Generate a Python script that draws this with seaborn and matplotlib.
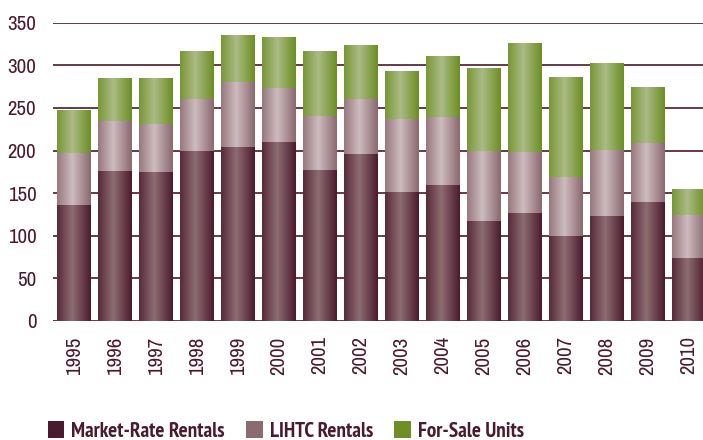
import numpy as np
import pandas as pd
import matplotlib
matplotlib.use("Agg")
import matplotlib.pyplot as plt
import seaborn as sns
from matplotlib.patches import Patch
from matplotlib.colors import to_rgb
from matplotlib import font_manager as fm

years = ["1995", "1996", "1997", "1998", "1999", "2000", "2001", "2002",
         "2003", "2004", "2005", "2006", "2007", "2008", "2009", "2010"]
market_rate = [136, 176, 175, 200, 204, 210, 177, 196, 151, 159, 117, 127, 100, 123, 140, 74]
lihtc = [61, 59, 56, 60, 76, 63, 63, 64, 86, 80, 82, 71, 69, 78, 69, 50]
for_sale = [50, 50, 54, 57, 55, 60, 77, 64, 56, 72, 98, 128, 117, 102, 66, 31]
series_names = ["Market-Rate Rentals", "LIHTC Rentals", "For-Sale Units"]

TEXT = "#4a1a2e"
legend_cols = ["#4a1a2e", "#8c6b70", "#6e8e26"]
edge_cols = ["#4b1a2d", "#8a686e", "#6c8e22"]
center_cols = ["#8d6d72", "#cdbcbf", "#abbb85"]

sns.set_theme(style="white")

names = {f.name for f in fm.fontManager.ttflist}
tick_fam = "Archivo Narrow" if "Archivo Narrow" in names else "DejaVu Sans"
leg_fam = "PT Sans Narrow" if "PT Sans Narrow" in names else tick_fam
plt.rcParams["font.family"] = [tick_fam, "DejaVu Sans"]

df = pd.DataFrame({"year": years, "market": market_rate, "lihtc": lihtc, "sale": for_sale})
df["c1"] = df["market"]
df["c2"] = df["market"] + df["lihtc"]
df["c3"] = df["c2"] + df["sale"]

fig = plt.figure(figsize=(7.03, 4.40), dpi=100)
ax = fig.add_axes([53 / 703, 1 - 321 / 440, 650 / 703, (321 - 22.7) / 440])

W = 0.82
layers = [("c3", 2, 2), ("c2", 1, 4), ("c1", 0, 6)]
for col, ci, z in layers:
    n_before = len(ax.patches)
    sns.barplot(data=df, x="year", y=col, color=legend_cols[ci], width=W,
                ax=ax, saturation=1, linewidth=0, zorder=z)
    new = ax.patches[n_before:]
    e = np.array(to_rgb(edge_cols[ci]))
    c = np.array(to_rgb(center_cols[ci]))
    t = np.linspace(0, 1, 200)
    f = np.clip(1 - np.abs(t - 0.45) / 0.55, 0, 1)
    grad = e[None, :] + (c - e)[None, :] * f[:, None]
    img = grad[None, :, :]
    for p in new:
        p.set_zorder(z)
        x0, y0 = p.get_x(), p.get_y()
        w, h = p.get_width(), p.get_height()
        im = ax.imshow(img, extent=[x0, x0 + w, y0, y0 + h], aspect="auto",
                       origin="lower", zorder=z + 0.5, interpolation="bilinear")
        im.set_clip_path(p)

ax.set_xlim(-0.517, 15.337)
ax.set_ylim(0, 350)
ax.set_yticks(range(0, 351, 50))
ax.yaxis.grid(True, color="#5a2a3a", linewidth=1.3)
ax.xaxis.grid(False)
ax.set_axisbelow(True)
for s in ax.spines.values():
    s.set_visible(False)
ax.set_xlabel("")
ax.set_ylabel("")
fs = 15
ax.tick_params(axis="y", length=0, pad=12, labelsize=fs, labelcolor=TEXT)
ax.tick_params(axis="x", length=0, pad=11, labelsize=fs, labelcolor=TEXT)
plt.setp(ax.get_xticklabels(), rotation=90)

# fit legend font so that the first label is ~154 px wide
renderer = fig.canvas.get_renderer()
probe = fig.text(0, 0, series_names[0], fontsize=15, fontweight="bold",
                 family=[leg_fam, "DejaVu Sans"])
wpx = probe.get_window_extent(renderer).width
probe.remove()
lfs = 15 * 154.0 / wpx

handles = [Patch(facecolor=legend_cols[i], edgecolor="none") for i in range(3)]
leg = fig.legend(handles, series_names, loc="lower left",
                 bbox_to_anchor=(37 / 703, -0.026), ncol=3, frameon=False,
                 borderpad=0, handlelength=12.2 / lfs, handleheight=12.2 / lfs,
                 handletextpad=5.0 / lfs, columnspacing=15.0 / lfs,
                 prop={"family": [leg_fam, "DejaVu Sans"], "size": lfs, "weight": "bold"})
for txt in leg.get_texts():
    txt.set_color(TEXT)

fig.savefig("out.png", dpi=100)
